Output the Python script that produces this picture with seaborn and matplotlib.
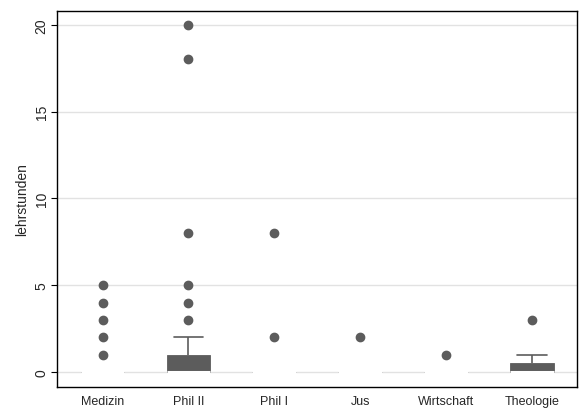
import numpy as np
import pandas as pd
import matplotlib
matplotlib.use("Agg")
import matplotlib.pyplot as plt
import seaborn as sns

# faculties in plotting order
faculties = ["Medizin", "Phil II", "Phil I", "Jus", "Wirtschaft", "Theologie"]

# lehrstunden per faculty (bulk at 0, outliers as dots)
medizin = [0] * 30 + [1, 2, 3, 4, 5]
phil2 = [0] * 22 + [1] * 10 + [2] * 3 + [3, 4, 5, 8, 18, 20]
phil1 = [0] * 20 + [2, 8]
jus = [0] * 15 + [2]
wirtschaft = [0] * 15 + [1]
theologie = [0] * 5 + [1, 3]

values = [medizin, phil2, phil1, jus, wirtschaft, theologie]
rows = []
for fac, vals in zip(faculties, values):
    for v in vals:
        rows.append((fac, v))
df = pd.DataFrame(rows, columns=["fakultaet", "lehrstunden"])

sns.set_style("white")
plt.rcParams["font.family"] = ["Liberation Sans", "DejaVu Sans"]

fig = plt.figure(figsize=(5.82, 4.10), dpi=100)
ax = fig.add_axes([0.098, 0.054, 0.893, 0.917])

grey = "#5c5c5c"
box_w = 0.51
sns.boxplot(data=df, x="fakultaet", y="lehrstunden", order=faculties,
            width=box_w, color=grey, saturation=1, ax=ax,
            boxprops=dict(facecolor=grey, edgecolor=grey, linewidth=0.6),
            medianprops=dict(color="white", linewidth=2.2),
            whiskerprops=dict(color=grey, linewidth=1.2),
            capprops=dict(color=grey, linewidth=1.2),
            flierprops=dict(marker="o", markerfacecolor=grey,
                            markeredgecolor=grey, markersize=6),
            zorder=3)

# stata draws wider whisker caps
for line in ax.lines:
    x, y = line.get_xdata(), line.get_ydata()
    if len(x) == 2 and y[0] == y[1] and abs(x[1] - x[0]) < box_w * 0.9:
        mid = (x[0] + x[1]) / 2
        half = box_w * 0.34
        line.set_xdata([mid - half, mid + half])

ax.set_xlim(-0.53, 5.52)
ax.set_ylim(-0.86, 20.8)
ax.set_yticks([0, 5, 10, 15, 20])
ax.yaxis.grid(True, color="#e2e2e2", linewidth=1)
ax.set_axisbelow(True)
ax.set_xlabel("")
ax.set_ylabel("lehrstunden", fontsize=10)
ax.tick_params(axis="y", left=True, length=4, width=0.8, labelsize=10,
               labelrotation=90, pad=2, color="black")
ax.tick_params(axis="x", length=0, labelsize=9, pad=6)
for lab in ax.get_yticklabels():
    lab.set_va("center")
for s in ax.spines.values():
    s.set_color("black")
    s.set_linewidth(1)

fig.savefig("out.png", dpi=100)
